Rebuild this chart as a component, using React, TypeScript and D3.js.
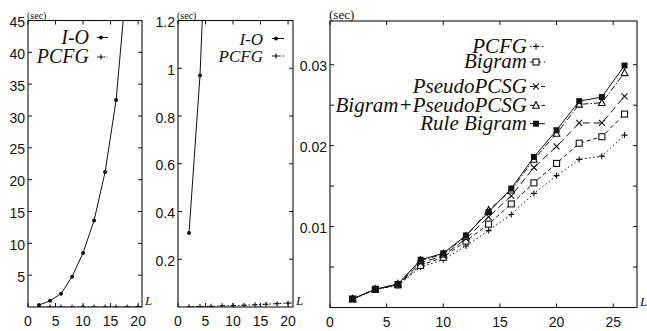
import * as d3 from "d3";
import { useEffect, useRef } from "react";

// sentence length L
const lengths = [2, 4, 6, 8, 10, 12, 14, 16, 18, 20, 22, 24, 26];

// parse times (sec)
const ioTimes = [0.31, 0.97, 2.1, 4.75, 8.5, 13.6, 21.2, 32.5, 52];
const pcfgTimes = [0.00105, 0.00225, 0.0027, 0.005, 0.0059, 0.0076, 0.0095, 0.0115, 0.0141, 0.0163, 0.0183, 0.0187, 0.0213];
const bigramTimes = [0.00105, 0.00225, 0.0028, 0.0052, 0.0062, 0.0082, 0.0103, 0.0128, 0.0154, 0.0178, 0.0203, 0.0211, 0.0239];
const pseudoTimes = [0.00105, 0.00225, 0.0028, 0.0055, 0.0064, 0.0085, 0.0112, 0.0138, 0.0173, 0.0199, 0.0228, 0.0228, 0.0261];
const bigramPseudoTimes = [0.00105, 0.00225, 0.0029, 0.0058, 0.0066, 0.0088, 0.012, 0.0145, 0.0183, 0.0215, 0.0251, 0.0253, 0.029];
const ruleBigramTimes = [0.00105, 0.00225, 0.0029, 0.0059, 0.0067, 0.0089, 0.0118, 0.0147, 0.0186, 0.0219, 0.0255, 0.026, 0.0299];

const smallXTicks = [0, 5, 10, 15, 20];
const bigXTicks = [0, 5, 10, 15, 20, 25];
const ioYTicks = [5, 10, 15, 20, 25, 30, 35, 40, 45];
const zoomYTicks = [0.2, 0.4, 0.6, 0.8, 1, 1.2];
const modelYTicks = [0.01, 0.02, 0.03];
const modelYMinor = [0.005, 0.01, 0.015, 0.02, 0.025, 0.03];

const INK = "#111";
const SANS = "'Liberation Sans', Arial, Helvetica, sans-serif";
const SERIF = "'Times New Roman', 'Liberation Serif', Times, 'DejaVu Serif', serif";

function drawMark(g, type, x, y, s) {
  if (type === "dot") {
    g.append("circle").attr("cx", x).attr("cy", y).attr("r", 2).attr("fill", INK);
  } else if (type === "plus") {
    g.append("path")
      .attr("d", `M${x - s},${y}H${x + s}M${x},${y - s}V${y + s}`)
      .attr("stroke", INK).attr("stroke-width", 1.1).attr("fill", "none");
  } else if (type === "cross") {
    g.append("path")
      .attr("d", `M${x - s},${y - s}L${x + s},${y + s}M${x - s},${y + s}L${x + s},${y - s}`)
      .attr("stroke", INK).attr("stroke-width", 1.1).attr("fill", "none");
  } else if (type === "square") {
    g.append("rect").attr("x", x - s).attr("y", y - s).attr("width", 2 * s).attr("height", 2 * s)
      .attr("fill", "white").attr("stroke", INK).attr("stroke-width", 1.1);
  } else if (type === "triangle") {
    g.append("path")
      .attr("d", `M${x},${y - s - 0.5}L${x + s},${y + s - 0.5}L${x - s},${y + s - 0.5}Z`)
      .attr("fill", "white").attr("stroke", INK).attr("stroke-width", 1.1);
  } else if (type === "box") {
    g.append("rect").attr("x", x - s).attr("y", y - s).attr("width", 2 * s).attr("height", 2 * s)
      .attr("fill", INK);
  }
}

function drawPanel(svg, p) {
  const x = d3.scaleLinear().domain(p.xDomain).range([p.left, p.right]);
  const y = d3.scaleLinear().domain(p.yDomain).range([p.bottom, p.top]);
  const g = svg.append("g");
  const tick = 4;

  g.append("defs").append("clipPath").attr("id", p.id)
    .append("rect").attr("x", p.left).attr("y", p.top)
    .attr("width", p.right - p.left).attr("height", p.bottom - p.top);

  // ticks, mirrored on top and right
  (p.yMinor || p.yTicks).forEach((v) => {
    g.append("path")
      .attr("d", `M${p.left},${y(v)}h${tick}M${p.right},${y(v)}h${-tick}`)
      .attr("stroke", INK);
  });
  p.xTicks.forEach((v) => {
    g.append("path")
      .attr("d", `M${x(v)},${p.bottom}v${-tick}M${x(v)},${p.top}v${tick}`)
      .attr("stroke", INK);
  });

  g.selectAll(".ylab").data(p.yTicks).join("text")
    .attr("x", p.left - 3).attr("y", (d) => y(d) + 1.5)
    .attr("text-anchor", "end").attr("dominant-baseline", "central")
    .style("font-family", SANS).style("font-size", "14px")
    .attr("fill", INK).text((d) => String(d));
  g.selectAll(".xlab").data(p.xTicks).join("text")
    .attr("x", (d) => x(d)).attr("y", p.bottom + 14)
    .attr("text-anchor", "middle").attr("dominant-baseline", "central")
    .style("font-family", SANS).style("font-size", "14px")
    .attr("fill", INK).text((d) => String(d));

  g.append("text").attr("x", p.left - 1).attr("y", p.top - 2)
    .style("font-family", SERIF).style("font-size", `${p.secSize}px`)
    .attr("fill", INK).text("(sec)");
  g.append("text").attr("x", p.right + 3).attr("y", p.bottom - 2)
    .style("font-family", SERIF).style("font-style", "italic").style("font-size", "13px")
    .attr("fill", INK).text("L");

  // series
  const content = g.append("g").attr("clip-path", `url(#${p.id})`);
  p.series.forEach((s) => {
    const pts = s.ys.map((v, i) => [lengths[i], v]);
    const lineGen = d3.line().x((d) => x(d[0])).y((d) => y(d[1]));
    content.append("path").datum(pts)
      .attr("d", lineGen).attr("fill", "none").attr("stroke", INK)
      .attr("stroke-width", 1).attr("stroke-dasharray", s.dash);
    pts.forEach((d) => {
      if (d[0] <= p.xDomain[1] && d[1] <= p.yDomain[1]) drawMark(content, s.mark, x(d[0]), y(d[1]), s.size);
    });
  });

  // legend
  p.series.forEach((s, i) => {
    const base = p.legend.baselines[i];
    g.append("text").attr("x", p.legend.textRight).attr("y", base)
      .attr("text-anchor", "end")
      .style("font-family", SERIF).style("font-style", "italic")
      .style("font-size", `${p.legend.fontSize}px`)
      .attr("fill", INK).text(s.name);
    const ly = base - p.legend.mid;
    g.append("path").attr("d", `M${p.legend.x0},${ly}H${p.legend.x1}`)
      .attr("stroke", INK).attr("stroke-dasharray", s.dash);
    drawMark(g, s.mark, p.legend.mx, ly, s.size);
  });

  // frame
  g.append("rect").attr("x", p.left).attr("y", p.top)
    .attr("width", p.right - p.left).attr("height", p.bottom - p.top)
    .attr("fill", "none").attr("stroke", INK).attr("stroke-width", 1.1);
}

export default function App() {
  const svgRef = useRef(null);

  useEffect(() => {
    const svg = d3.select(svgRef.current);
    svg.selectAll("*").remove();

    const ioSeries = [
      { name: "I-O", ys: ioTimes, dash: null, mark: "dot", size: 2 },
      { name: "PCFG", ys: pcfgTimes, dash: "1.5,2", mark: "plus", size: 2.5 },
    ];

    drawPanel(svg, {
      id: "clipA", left: 28, right: 142, top: 20.5, bottom: 307,
      xDomain: [0, 20.7], yDomain: [0, 45],
      xTicks: smallXTicks, yTicks: ioYTicks, secSize: 10,
      series: ioSeries,
      legend: { textRight: 89, baselines: [43.5, 63], mid: 6, fontSize: 20, x0: 97, x1: 108, mx: 101 },
    });

    drawPanel(svg, {
      id: "clipB", left: 178, right: 293, top: 20.5, bottom: 307,
      xDomain: [0, 20.9], yDomain: [0, 1.2],
      xTicks: smallXTicks, yTicks: zoomYTicks, secSize: 10,
      series: ioSeries,
      legend: { textRight: 263, baselines: [44.5, 62], mid: 6, fontSize: 17, x0: 272, x1: 284, mx: 276 },
    });

    drawPanel(svg, {
      id: "clipC", left: 330, right: 637, top: 21, bottom: 307.5,
      xDomain: [0, 27.1], yDomain: [0, 0.0354],
      xTicks: bigXTicks, yTicks: modelYTicks, yMinor: modelYMinor, secSize: 13,
      series: [
        { name: "PCFG", ys: pcfgTimes, dash: "1.5,2.5", mark: "plus", size: 3 },
        { name: "Bigram", ys: bigramTimes, dash: "4,3", mark: "square", size: 3 },
        { name: "PseudoPCSG", ys: pseudoTimes, dash: "7,4", mark: "cross", size: 3 },
        { name: "Bigram+PseudoPCSG", ys: bigramPseudoTimes, dash: "6,2,1.5,2", mark: "triangle", size: 3.3 },
        { name: "Rule Bigram", ys: ruleBigramTimes, dash: null, mark: "box", size: 3 },
      ],
      legend: { textRight: 527, baselines: [52.7, 68.3, 92.7, 111.7, 130], mid: 6.3, fontSize: 21, x0: 530, x1: 545, mx: 536 },
    });
  }, []);

  return (
    <svg
      ref={svgRef}
      width={647}
      height={331}
      style={{ position: "absolute", left: 0, top: 0, background: "white" }}
    />
  );
}
